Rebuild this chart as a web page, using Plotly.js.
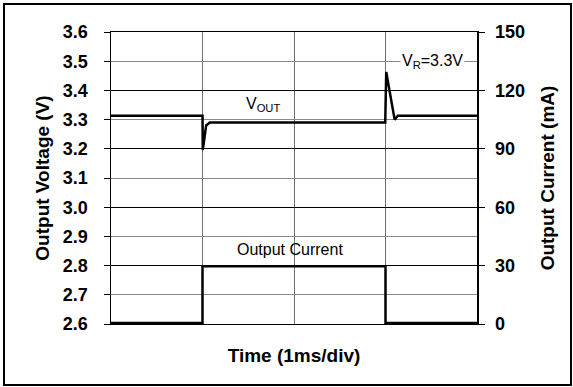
<!DOCTYPE html>
<html>
<head>
<meta charset="utf-8">
<script src="https://cdn.plot.ly/plotly-3.0.1.min.js"></script>
<style>
  html, body { margin: 0; padding: 0; background: #fff; }
  #wrap { position: relative; width: 573px; height: 387px; }
  #chart { position: absolute; left: 0; top: 0; width: 573px; height: 387px; }
  #frame { position: absolute; left: 3px; top: 3px; width: 565px; height: 379px;
           border: 2px solid #000; pointer-events: none; }
</style>
</head>
<body>
<div id="wrap">
  <div id="chart"></div>
  <div id="frame"></div>
</div>
<script>
// Time in ms (1 ms/div)
const vTime = [0, 1.0, 1.003, 1.04, 1.08, 2.997, 3.008, 3.1, 3.135, 4.0];
const vOut  = [3.313, 3.313, 3.196, 3.28, 3.29, 3.29, 3.463, 3.30, 3.313, 3.313];

const iTime = [0, 1.0, 1.0, 3.0, 3.0, 4.0];
const iOut  = [0.5, 0.5, 29.7, 29.7, 0.5, 0.5];

const vTicks = [2.6, 2.7, 2.8, 2.9, 3.0, 3.1, 3.2, 3.3, 3.4, 3.5, 3.6];
const iTicks = [0, 30, 60, 90, 120, 150];

const tickFont = {family: 'Liberation Sans, Arial, sans-serif', size: 18, color: '#000', weight: 'bold'};
const titleFont = {family: 'Liberation Sans, Arial, sans-serif', size: 19, color: '#000', weight: 'bold'};
const noteFont = {family: 'Liberation Sans, Arial, sans-serif', size: 16, color: '#000'};

const traces = [
  {x: vTime, y: vOut, type: 'scatter', mode: 'lines', name: 'VOUT',
   line: {color: '#000', width: 2.5}, yaxis: 'y', hoverinfo: 'skip'},
  {x: iTime, y: iOut, type: 'scatter', mode: 'lines', name: 'Output Current',
   line: {color: '#000', width: 2.5}, yaxis: 'y2', hoverinfo: 'skip'}
];

const layout = {
  width: 573, height: 387,
  margin: {l: 111, r: 96, t: 32, b: 63},
  paper_bgcolor: '#fff', plot_bgcolor: '#fff',
  showlegend: false,
  xaxis: {
    range: [0, 4], dtick: 1, tick0: 0,
    showgrid: true, gridcolor: '#707070', gridwidth: 1,
    showticklabels: false, ticks: '',
    showline: true, linecolor: '#000', linewidth: 1, mirror: true,
    zeroline: false, fixedrange: true,
    title: {text: 'Time (1ms/div)', font: titleFont, standoff: 24}
  },
  yaxis: {
    range: [2.6, 3.6], tickvals: vTicks, ticktext: vTicks.map(v => v.toFixed(1)),
    showgrid: true, gridcolor: '#8a8a8a', gridwidth: 1,
    ticks: 'outside', ticklen: 6, tickcolor: '#000', tickwidth: 1,
    ticklabelstandoff: 12,
    showline: true, linecolor: '#000', linewidth: 1.5,
    zeroline: false, fixedrange: true, tickfont: tickFont,
    title: {text: 'Output Voltage (V)', font: titleFont, standoff: 8}
  },
  yaxis2: {
    range: [0, 150], tickvals: iTicks, overlaying: 'y', side: 'right',
    showgrid: true, gridcolor: '#000', gridwidth: 1,
    ticks: 'outside', ticklen: 6, tickcolor: '#000', tickwidth: 1,
    ticklabelstandoff: 7,
    showline: true, linecolor: '#000', linewidth: 1.5,
    zeroline: false, fixedrange: true, tickfont: tickFont,
    title: {text: 'Output Current (mA)', font: titleFont, standoff: 16}
  },
  annotations: [
    {x: 1.66, y: 3.352, xref: 'x', yref: 'y', text: 'V<sub>OUT</sub>', showarrow: false, font: noteFont},
    {x: 3.515, y: 3.5, xref: 'x', yref: 'y', text: 'V<sub>R</sub>=3.3V', showarrow: false,
     font: noteFont, bgcolor: '#fff', borderpad: 1},
    {x: 1.955, y: 2.855, xref: 'x', yref: 'y', text: 'Output Current', showarrow: false, font: noteFont}
  ]
};

Plotly.newPlot('chart', traces, layout, {displayModeBar: false, staticPlot: true});
</script>
</body>
</html>
